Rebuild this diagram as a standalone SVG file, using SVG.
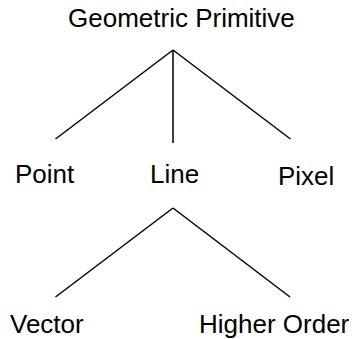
<svg xmlns="http://www.w3.org/2000/svg" width="355" height="339" viewBox="0 0 355 339">
<style>
text{font-family:"Liberation Sans",Arial,sans-serif;font-size:26px;fill:#000}
.c line{stroke:#000;stroke-width:1.5;fill:none}
</style>
<rect width="355" height="339" fill="#fff"/>
<g class="c" id="connectors">
<line x1="173" y1="50" x2="55.5" y2="139"/>
<line x1="173" y1="50" x2="173" y2="143"/>
<line x1="173" y1="50" x2="290.5" y2="139"/>
<line x1="173" y1="208" x2="55.5" y2="297"/>
<line x1="173" y1="208" x2="290" y2="297"/>
</g>
<g id="geometric-primitive"><text x="68" y="26.5">Geometric Primitive</text></g>
<g id="point"><text x="15" y="183">Point</text></g>
<g id="line"><text x="150" y="183">Line</text></g>
<g id="pixel"><text x="278" y="185">Pixel</text></g>
<g id="vector"><text x="10" y="332.5">Vector</text></g>
<g id="higher-order"><text x="199" y="332.5">Higher Order</text></g>
</svg>
